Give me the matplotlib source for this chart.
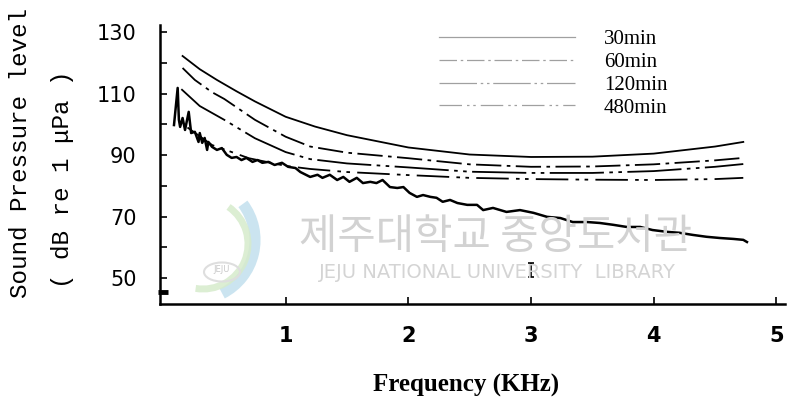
import matplotlib

matplotlib.use("Agg")

import matplotlib.pyplot as plt
from matplotlib.patches import Arc, Circle

# smooth level curves after each exposure time (kHz, dB)
freq_30 = [0.16, 0.3, 0.44, 0.6, 0.75, 1.0, 1.24, 1.5, 2.0, 2.5, 3.0, 3.5, 4.0, 4.5, 4.73]
level_30 = [122.3, 118.0, 114.5, 110.8, 107.5, 102.5, 99.3, 96.5, 92.5, 90.2, 89.4, 89.5, 90.5, 92.8, 94.3]

freq_60 = [0.16, 0.26, 0.4, 0.5, 0.75, 1.0, 1.2, 1.5, 2.0, 2.5, 3.0, 3.5, 4.0, 4.5, 4.73]
level_60 = [118.4, 114.5, 110.5, 108.3, 101.5, 96.0, 92.8, 90.8, 89.0, 87.0, 86.2, 86.3, 87.0, 88.3, 89.1]

freq_120 = [0.15, 0.3, 0.5, 0.75, 1.0, 1.2, 1.5, 2.0, 2.5, 3.0, 3.5, 4.0, 4.5, 4.73]
level_120 = [111.5, 106.0, 101.5, 95.5, 91.0, 88.7, 87.3, 86.0, 84.6, 84.2, 84.2, 84.8, 86.2, 87.1]

freq_480 = [0.2, 0.4, 0.7, 1.0, 1.2, 1.5, 2.0, 2.5, 3.0, 3.5, 4.0, 4.5, 4.73]
level_480 = [99.0, 93.3, 89.0, 86.5, 85.5, 84.5, 83.5, 82.6, 82.2, 82.0, 81.9, 82.2, 82.6]

# measured spectrum
spec_freq = [0.09, 0.12, 0.13, 0.14, 0.16, 0.18, 0.21, 0.23, 0.26, 0.29, 0.30, 0.32,
             0.34, 0.36, 0.37, 0.40, 0.44, 0.48, 0.52, 0.56, 0.60, 0.64, 0.68, 0.73,
             0.77, 0.81, 0.86, 0.91, 0.97, 1.02, 1.08, 1.12, 1.20, 1.26, 1.30, 1.36,
             1.42, 1.47, 1.52, 1.58, 1.63, 1.69, 1.74, 1.79, 1.85, 1.91, 1.96, 2.01,
             2.07, 2.12, 2.18, 2.23, 2.28, 2.34, 2.40, 2.48, 2.56, 2.61, 2.69, 2.80,
             2.91, 3.02, 3.13, 3.24, 3.34, 3.46, 3.56, 3.67, 3.78, 3.89, 3.99, 4.11,
             4.21, 4.32, 4.43, 4.54, 4.65, 4.73, 4.76]
spec_level = [99.8, 111.9, 101.5, 99.2, 102.1, 98.2, 104.1, 97.2, 97.6, 94.3, 97.2, 94.0,
              95.6, 91.7, 94.3, 92.7, 91.7, 92.3, 90.1, 89.1, 89.4, 88.4, 89.1, 87.8,
              88.4, 87.5, 87.8, 86.8, 87.5, 86.2, 85.8, 84.5, 82.9, 83.6, 82.6, 83.6,
              81.9, 82.9, 81.3, 82.6, 80.9, 81.3, 80.9, 81.9, 79.6, 79.3, 79.6, 77.7,
              76.4, 77.0, 76.4, 76.1, 74.8, 75.4, 74.4, 73.8, 73.8, 72.1, 72.8, 71.5,
              72.1, 71.2, 69.9, 69.5, 68.2, 68.2, 67.9, 67.3, 66.6, 66.6, 65.6, 65.0,
              64.7, 64.0, 63.4, 63.0, 62.7, 62.4, 61.7]

# error mark drawn near 3 kHz
err_freq = [3.0]
err_level = [52.6]
err_half = [2.4]

x_ticks = [1, 2, 3, 4, 5]
y_major = [50, 70, 90, 110, 130]
y_minor = [60, 80, 100, 120]

W, H = 788, 416
fig = plt.figure(figsize=(W / 100, H / 100), dpi=100)
ax = fig.add_axes((160 / W, 112 / H, 625 / W, 279 / H))


def fx(px):
    return px / W


def fy(py):
    return 1 - py / H


def ring(cx, cy, r, t1, t2, color, lw):
    fig.patches.append(Arc((fx(cx), fy(cy)), 2 * r / W, 2 * r / H, theta1=t1, theta2=t2,
                           transform=fig.transFigure, color=color, lw=lw, alpha=0.85))


# faint library stamp behind the data
fig.text(fx(496), fy(237), "제주대학교 중앙도서관", fontsize=30, color="#d2d2d2",
         family=["Noto Sans CJK KR", "DejaVu Sans"], ha="center", va="center", zorder=0)
fig.text(fx(497), fy(272), "JEJU NATIONAL UNIVERSITY  LIBRARY", fontsize=14, color="#d4d4d4",
         family="DejaVu Sans", ha="center", va="center", zorder=0)
ring(195, 240, 60, -75, 55, "#c2e0ee", 8)
ring(203, 244, 45, -95, 70, "#d6ebcc", 5)
fig.patches.append(Circle((fx(222), fy(272)), 18 / W, transform=fig.transFigure,
                          facecolor="none", edgecolor="#dedede", lw=1.5))
fig.text(fx(222), fy(270), "JEJU", fontsize=6, color="#c8c8c8", ha="center", va="center")

l30, = ax.plot(freq_30, level_30, color="black", lw=1.3, label="30min")
l60, = ax.plot(freq_60, level_60, color="black", lw=1.3, ls=(0, (14, 3, 2, 3)), label="60min")
l120, = ax.plot(freq_120, level_120, color="black", lw=1.3, ls=(0, (30, 3, 2, 3, 2, 3)), label="120min")
l480, = ax.plot(freq_480, level_480, color="black", lw=1.3, ls=(0, (18, 4, 2, 3, 2, 4)), label="480min")
ax.plot(spec_freq, spec_level, color="black", lw=1.8)

leg = ax.legend(handles=[l30, l60, l120, l480], loc="upper right", frameon=False,
                handlelength=6.5, handletextpad=1.4, labelspacing=0.15,
                bbox_to_anchor=(0.842, 1.05), prop={"family": "Liberation Serif", "size": 15})
for h in leg.get_lines():
    h.set_color("#a0a0a0")
    h.set_linewidth(0.9)

ax.errorbar(err_freq, err_level, yerr=err_half, fmt="none", ecolor="black",
            elinewidth=1.2, capsize=2.5, capthick=1.2)
ax.plot([0], [45.4], marker="_", markersize=7, markeredgewidth=3.5, color="black", clip_on=False)

ax.set_xlim(-0.024, 5.07)
ax.set_ylim(41.5, 132.4)
ax.spines["top"].set_visible(False)
ax.spines["right"].set_visible(False)
ax.spines["left"].set_linewidth(1.8)
ax.spines["bottom"].set_linewidth(1.8)

ax.set_xticks(x_ticks)
ax.set_xticklabels([str(v) for v in x_ticks], fontsize=15, fontweight="bold")
ax.set_yticks(y_major)
ax.set_yticks(y_minor, minor=True)
ax.set_yticklabels([str(v) for v in y_major], fontsize=15)
ax.tick_params(axis="x", direction="in", length=5, width=1.2, pad=16)
ax.tick_params(axis="y", which="both", direction="in", length=5, width=1.2, pad=17)

fig.text(fx(466), fy(385), "Frequency (KHz)", fontsize=18, fontweight="bold",
         family="Liberation Serif", ha="center", va="center")
fig.text(fx(21), fy(153), "Sound Pressure level", fontsize=17.5, rotation=90,
         family="Liberation Mono", ha="center", va="center")
fig.text(fx(62), fy(179), "( dB re 1 \u03bcPa )", fontsize=17.5, rotation=90,
         family="Liberation Mono", ha="center", va="center")

fig.savefig("out.png", dpi=100)
